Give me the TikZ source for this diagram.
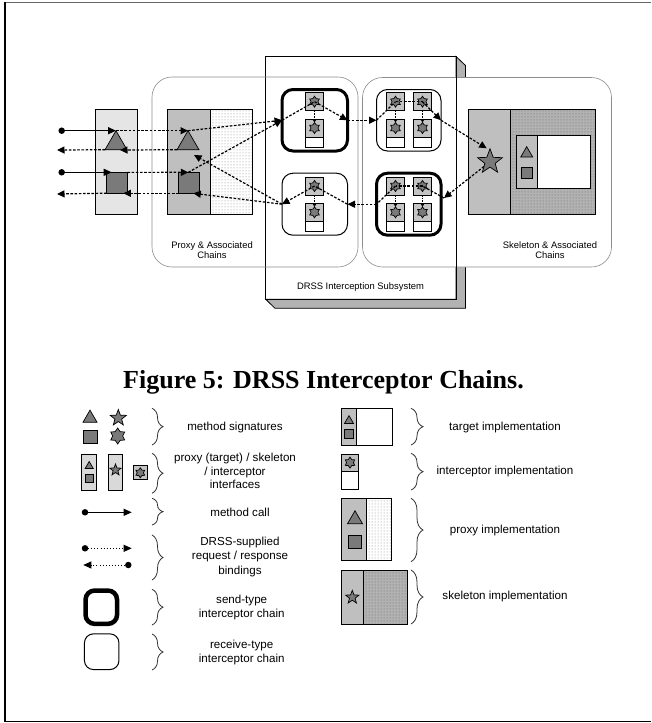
\documentclass[tikz,border=0pt]{standalone}
\usepackage{fontspec}
\setmainfont{Liberation Serif}
\setsansfont{Liberation Sans}
\usetikzlibrary{shapes.geometric,arrows.meta,patterns,decorations.pathreplacing}
\begin{document}
\begin{tikzpicture}[x=1pt,y=-1pt,
  every node/.style={inner sep=0pt, outer sep=0pt},
  bx/.style={draw=black, line width=0.8pt, anchor=north west},
  sig/.style={draw=black, line width=0.7pt, fill=black!52},
  tri/.style={sig, regular polygon, regular polygon sides=3, minimum size=#1},
  sqr/.style={sig, rectangle, minimum size=#1},
  fstar/.style={sig, star, star points=5, star point ratio=2.4, minimum size=#1},
  sstar/.style={sig, star, star points=6, star point ratio=1.6, minimum size=#1},
  itf/.style={draw=black, line width=0.7pt, fill=black!23, minimum size=#1},
  dotn/.style={circle, fill=black, minimum size=6.5pt},
  dsh/.style={line width=1.2pt, dash pattern=on 2.6pt off 1.6pt, -{Triangle[length=7.5pt,width=7pt]}},
  dshn/.style={line width=1.2pt, dash pattern=on 2.6pt off 1.6pt},
  sol/.style={line width=1.3pt, -{Triangle[length=8pt,width=7pt]}},
  legsol/.style={line width=1pt, -{Triangle[length=8pt,width=7pt]}},
  legdot/.style={line width=0.9pt, dash pattern=on 0.9pt off 2.2pt, -{Triangle[length=8pt,width=7pt]}},
  sendc/.style={draw=black, line width=3pt, rounded corners=11pt, fill=white, anchor=north west},
  recvc/.style={draw=black, line width=1pt, rounded corners=11pt, fill=white, anchor=north west},
  cont/.style={draw=black!45, line width=0.6pt, rounded corners=20pt, anchor=north west},
  brc/.style={draw=black!80, line width=0.8pt, decorate, decoration={brace, amplitude=#1}},
  lbl/.style={font=\sffamily\fontsize{9.4pt}{10.6pt}\selectfont, align=center},
  leg/.style={font=\sffamily\fontsize{11.6pt}{14pt}\selectfont, align=center},
  captxt/.style={font=\rmfamily\bfseries\fontsize{26pt}{30pt}\selectfont},
  intercol/.pic={
    \node[itf=18pt] (-if) at (0,0) {};
    \node[sstar=11pt] (-s) at (0,0) {};
    \node[itf=18pt] (-im) at (0,26.3) {};
    \node[sstar=11pt] (-is) at (0,26.3) {};
    \node[draw=black, line width=0.7pt, fill=white, minimum width=18pt, minimum height=10pt] (-iw) at (0,40.3) {};
    \draw[line width=1pt, dash pattern=on 1.5pt off 1.2pt, -{Triangle[length=3pt,width=3.5pt]}] (-if.south) -- (-is.north);
  }
]
\useasboundingbox (0,0) rectangle (651,723);
% frame
\draw[black!60, line width=1.6pt] (5,2.5) -- (651,2.5);
\draw[black, line width=2pt] (5,2) -- (5,722);
\draw[black, line width=1.5pt] (5,721.5) -- (651,721.5);

% DRSS subsystem box (3D)
\path[fill=black!30, draw=black, line width=0.8pt] (265.7,299.3) -- (275,308.3) -- (465.5,308.3) -- (465.5,65.5) -- (456,56.5) -- (456,299.3) -- cycle;
\node[cont, fill=white] (skc) at (362.5,77.5) [minimum width=249pt, minimum height=189.5pt] {};
\node[bx, minimum width=190.3pt, minimum height=242.8pt] (drss) at (265.7,56.5) {};
\node[cont] (pxc) at (152,77) [minimum width=206pt, minimum height=190pt] {};
\node[lbl] (drsst) at (360.5,286.7) {DRSS Interception Subsystem};
\node[lbl] (pxct) at (212,250) {Proxy \& Associated\\Chains};
\node[lbl] (skct) at (550,250) {Skeleton \& Associated\\Chains};

% client
\node[bx, fill=black!10, minimum width=42pt, minimum height=105pt] (cli) at (95.7,109) {};
\node[tri=25.4pt] (ct) at (116,143.4) {};
\node[sqr=20.8pt] (cs) at (117,182.8) {};
% proxy
\node[bx, fill=black!25, minimum width=43pt, minimum height=105pt] (pxl) at (167.7,109) {};
\node[bx, pattern=dots, pattern color=black!50, minimum width=41.3pt, minimum height=105pt] (pxr) at (210.7,109) {};
\node[tri=25.4pt] (pt) at (188,143.4) {};
\node[sqr=21pt] (ps) at (189.3,182.8) {};

% skeleton
\node[bx, fill=black!25, minimum width=42.4pt, minimum height=105.3pt] (skl) at (468.3,109) {};
\node[bx, preaction={fill=black!30}, pattern=dots, pattern color=black!60, minimum width=85pt, minimum height=105.3pt] (skr) at (510.7,109) {};
\node[bx, fill=black!25, minimum width=21.3pt, minimum height=52.6pt] (tgl) at (516,135.7) {};
\node[bx, fill=white, minimum width=53.4pt, minimum height=52.6pt] (tgr) at (537.3,135.7) {};
\node[tri=13.9pt] (tgt) at (526.7,153.6) {};
\node[sqr=10.6pt] (tgs) at (527,172.6) {};
\node[fstar=26pt] (ss) at (490,161.7) {};

% chains
\node[sendc, minimum width=65.5pt, minimum height=61.5pt] (sc1) at (282,89.5) {};
\node[recvc, minimum width=64.5pt, minimum height=61.5pt] (rc1) at (376.5,89.5) {};
\node[sendc, minimum width=64.5pt, minimum height=62pt] (sc2) at (376.5,173.2) {};
\node[recvc, minimum width=65.5pt, minimum height=62pt] (rc2) at (282,173.2) {};
\pic (c1) at (314.5,101.7) {intercol};
\pic (c2a) at (395.5,101.7) {intercol};
\pic (c2b) at (422.5,101.7) {intercol};
\pic (c3a) at (395.5,186) {intercol};
\pic (c3b) at (422.5,186) {intercol};
\pic (c4) at (314.5,186) {intercol};

% connector coordinates
\node[dotn] (d1) at (61.7,130.7) {};
\node[dotn] (d2) at (61.7,172.3) {};
\coordinate (o1) at (57,150);
\coordinate (o2) at (57,194);
\coordinate (ctb) at (120,150);
\coordinate (csb) at (123.3,193.3);
\coordinate (cst) at (111.7,172.3);
\coordinate (pst) at (188.3,172.3);
\coordinate (ptr) at (194,155);
\coordinate (psr) at (193.3,193.3);
\coordinate (ssin) at (486.7,148.3);
\coordinate (sc2in) at (444,198);

% connectors
\draw[sol] (d1.center) -- (ct.corner 1);
\draw[dsh] (ct.corner 1) -- (pt.corner 1);
\draw[dsh] (pt.corner 2) -- (ctb);
\draw[dsh] (ct.corner 2) -- (o1);
\draw[sol] (d2.center) -- (cst);
\draw[dsh] (cs.north east) -- (pst);
\draw[dsh] (ps.south west) -- (csb);
\draw[dsh] (cs.south west) -- (o2);
\draw[dsh] (pt.corner 1) -- (sc1.west);
\draw[dsh] (pst) -- (sc1.west);
\draw[dshn] (sc1.west) -- (c1-s.center);
\draw[dsh] (c1-s.center) -- (sc1.east);
\draw[dsh] (sc1.east) -- (rc1.west);
\draw[dshn] (rc1.west) -- (c2a-s.center);
\draw[dshn] (c2a-s.center) -- (c2b-s.center);
\draw[dsh] (c2b-s.center) -- (rc1.east);
\draw[dsh] (rc1.east) -- (ssin);
\draw[dsh] (ss) -- (sc2in);
\draw[dshn] (sc2in) -- (c3b-s.center);
\draw[dshn] (c3b-s.center) -- (c3a-s.center);
\draw[dshn] (c3a-s.center) -- (sc2.west);
\draw[dsh] (sc2.west) -- (rc2.east);
\draw[dshn] (rc2.east) -- (c4-s.center);
\draw[dsh] (c4-s.center) -- (rc2.west);
\draw[dsh] (rc2.west) -- (ptr);
\draw[dsh] (rc2.west) -- (psr);

% caption
\node[captxt] (capt) at (323.5,382) {Figure 5: DRSS Interceptor Chains.};

% ---- legend left ----
\node[tri=16.2pt] (lt) at (90,418.2) {};
\node[fstar=17pt] (lf) at (118.3,418) {};
\node[sqr=13.5pt] (ls) at (90.3,436.7) {};
\node[sstar=16pt] (lx) at (117.7,436) {};
\coordinate (b1a) at (152,408.3); \coordinate (b1b) at (152,445);
\draw[brc=11pt] (b1a) -- (b1b);
\node[leg] (t1) at (235,427.3) {method signatures};

\node[bx, fill=black!15, minimum width=15pt, minimum height=36pt] (lpi) at (81.7,454) {};
\node[tri=9.5pt] (lpit) at (89.2,466.2) {};
\node[sqr=8pt] (lpis) at (89.2,478.3) {};
\node[bx, fill=black!15, minimum width=14.4pt, minimum height=36pt] (lsi) at (108.3,454) {};
\node[fstar=12pt] (lsis) at (115.5,470) {};
\node[itf=14pt] (lii) at (140.3,472.8) {};
\node[sstar=10pt] (liis) at (140.3,472.8) {};
\coordinate (b2a) at (152,453.3); \coordinate (b2b) at (152,493.3);
\draw[brc=11pt] (b2a) -- (b2b);
\node[leg, font=\sffamily\fontsize{11.6pt}{13.3pt}\selectfont] (t2) at (235,471) {proxy (target) / skeleton\\/ interceptor\\interfaces};

\node[dotn] (lmd) at (85,512.3) {};
\coordinate (lme) at (131.7,512.3);
\draw[legsol] (lmd.center) -- (lme);
\coordinate (b3a) at (152,498.3); \coordinate (b3b) at (152,525);
\draw[brc=11pt] (b3a) -- (b3b);
\node[leg] (t3) at (240,512.3) {method call};

\node[dotn] (lrd) at (85,548.3) {};
\coordinate (lre) at (131.7,548.3);
\draw[legdot] (lrd.center) -- (lre);
\node[dotn] (lsd) at (128.3,565) {};
\coordinate (lse) at (83.3,565);
\draw[legdot] (lsd.center) -- (lse);
\coordinate (b4a) at (152,535); \coordinate (b4b) at (152,580);
\draw[brc=11pt] (b4a) -- (b4b);
\node[leg, font=\sffamily\fontsize{11.6pt}{14.7pt}\selectfont] (t4) at (240,556.7) {DRSS-supplied\\request / response\\bindings};

\node[draw=black, line width=4.5pt, rounded corners=9pt, minimum width=31.5pt, minimum height=33.3pt] (lsc) at (101.3,607.2) {};
\coordinate (b5a) at (152,589.3); \coordinate (b5b) at (152,625);
\draw[brc=11pt] (b5a) -- (b5b);
\node[leg] (t5) at (241.7,607) {send-type\\interceptor chain};

\node[draw=black, line width=1pt, rounded corners=9pt, minimum width=34.5pt, minimum height=35.7pt] (lrc) at (101.7,651.7) {};
\coordinate (b6a) at (152,634); \coordinate (b6b) at (152,670);
\draw[brc=11pt] (b6a) -- (b6b);
\node[leg] (t6) at (241.7,652) {receive-type\\interceptor chain};

% ---- legend right ----
\node[bx, fill=black!25, minimum width=14.3pt, minimum height=36.7pt] (ltl) at (341.7,408.3) {};
\node[bx, fill=white, minimum width=36.7pt, minimum height=36.7pt] (ltr) at (356,408.3) {};
\node[tri=10.4pt] (ltt) at (349,420.8) {};
\node[sqr=9pt] (lts) at (349,434.3) {};
\coordinate (b7a) at (411,408.3); \coordinate (b7b) at (411,445);
\draw[brc=12pt] (b7a) -- (b7b);
\node[leg] (t7) at (505,427.3) {target implementation};

\node[bx, fill=black!25, minimum width=16.6pt, minimum height=16.7pt] (lia) at (341.7,454.3) {};
\node[sstar=11pt] (lias) at (350,462.6) {};
\node[bx, fill=white, minimum width=16.6pt, minimum height=18pt] (lib) at (341.7,471) {};
\coordinate (b8a) at (411,453.3); \coordinate (b8b) at (411,490);
\draw[brc=12pt] (b8a) -- (b8b);
\node[leg] (t8) at (505,471) {interceptor implementation};

\node[bx, fill=black!25, minimum width=25pt, minimum height=62.4pt] (lpl) at (341.7,498.3) {};
\node[bx, pattern=dots, pattern color=black!50, minimum width=25pt, minimum height=62.4pt] (lpr) at (366.7,498.3) {};
\node[tri=17.3pt] (lplt) at (355,519.4) {};
\node[sqr=13pt] (lpls) at (355,541.7) {};
\coordinate (b9a) at (411,498.3); \coordinate (b9b) at (411,561.7);
\draw[brc=12pt] (b9a) -- (b9b);
\node[leg] (t9) at (505,530) {proxy implementation};

\node[bx, fill=black!25, minimum width=21.6pt, minimum height=54pt] (lkl) at (341.7,570) {};
\node[bx, preaction={fill=black!30}, pattern=dots, pattern color=black!60, minimum width=44pt, minimum height=54pt] (lkr) at (363.3,570) {};
\node[fstar=14pt] (lks) at (352.3,597.3) {};
\coordinate (b10a) at (411,570); \coordinate (b10b) at (411,624);
\draw[brc=12pt] (b10a) -- (b10b);
\node[leg] (t10) at (505,596.7) {skeleton implementation};
\end{tikzpicture}
\end{document}
